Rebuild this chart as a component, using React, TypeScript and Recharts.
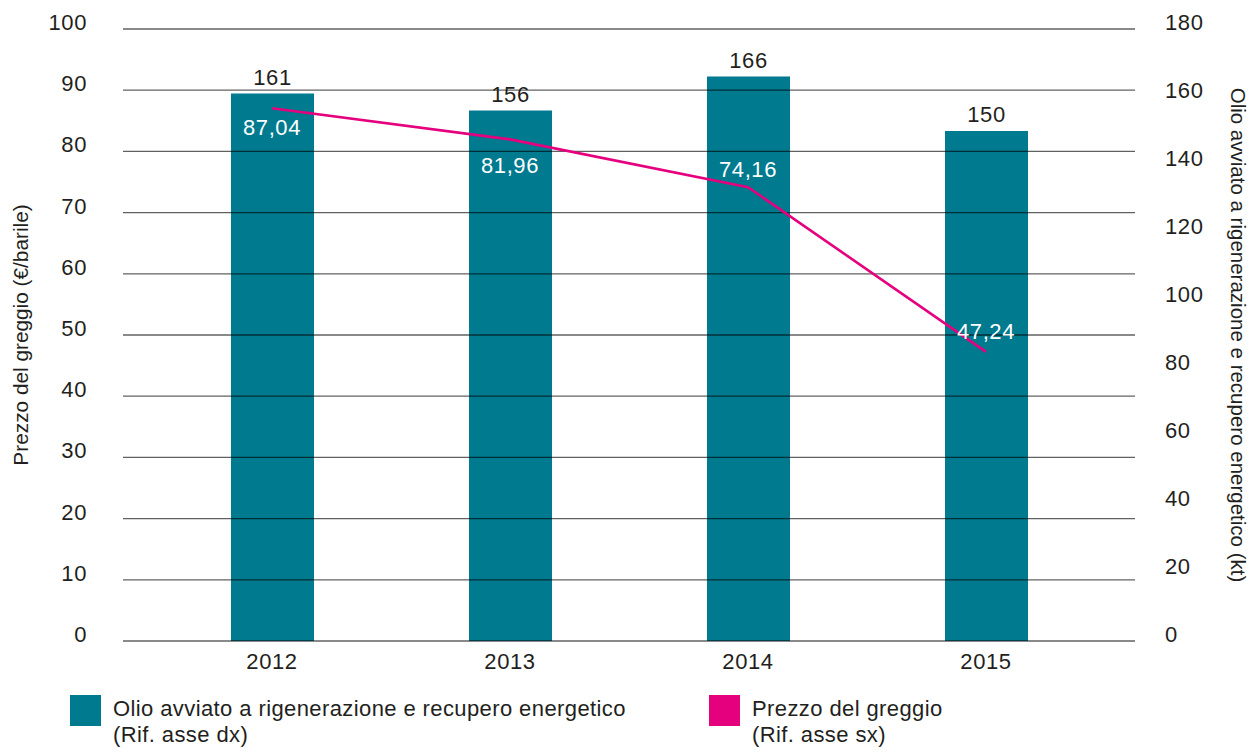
import {
  ComposedChart,
  Bar,
  Line,
  XAxis,
  YAxis,
  ReferenceLine,
  LabelList,
  Label,
} from "recharts";

// data
const years = ["2012", "2013", "2014", "2015"];
const oilKt = [161, 156, 166, 150];
const crudePrice = [87.04, 81.96, 74.16, 47.24];

const leftTicks = [0, 10, 20, 30, 40, 50, 60, 70, 80, 90, 100];
const rightTicks = [0, 20, 40, 60, 80, 100, 120, 140, 160, 180];

const barName = "Olio avviato a rigenerazione e recupero energetico";
const lineName = "Prezzo del greggio";

const TEAL = "#007a8f";
const MAGENTA = "#e5007e";
const INK = "#231f20";
const FONT = "'Liberation Sans', Arial, Helvetica, sans-serif";
const NUM_SIZE = 22;
const NUM_SPACING = 0.6;

// vertical shift of the price labels (below / above the point)
const priceLabelDy = [27, 34, -10, -13];

const data = years.map((year, i) => ({
  year,
  olio: oilKt[i],
  prezzo: crudePrice[i],
}));

const numText = {
  fontSize: NUM_SIZE,
  fontFamily: FONT,
  letterSpacing: NUM_SPACING,
};

const LeftTick = (props: any) => {
  const { x, y, payload } = props;
  return (
    <text x={x} y={y + 1} textAnchor="end" fill={INK} style={numText}>
      {payload.value}
    </text>
  );
};

const RightTick = (props: any) => {
  const { x, y, payload } = props;
  return (
    <text x={x} y={y + 1} textAnchor="start" fill={INK} style={numText}>
      {payload.value}
    </text>
  );
};

const YearTick = (props: any) => {
  const { x, y, payload } = props;
  return (
    <text x={x} y={y + 26} textAnchor="middle" fill={INK} style={numText}>
      {payload.value}
    </text>
  );
};

const BarValue = (props: any) => {
  const { x, y, width, value } = props;
  return (
    <text x={x + width / 2} y={y - 9} textAnchor="middle" fill={INK} style={numText}>
      {value}
    </text>
  );
};

const PriceValue = (props: any) => {
  const { x, y, value, index } = props;
  return (
    <text
      x={x}
      y={y + priceLabelDy[index]}
      textAnchor="middle"
      fill="#ffffff"
      style={numText}
    >
      {Number(value).toFixed(2).replace(".", ",")}
    </text>
  );
};

const LeftTitle = (props: any) => {
  const { viewBox } = props;
  const cx = 28;
  const cy = viewBox.y + viewBox.height / 2;
  return (
    <text
      x={cx}
      y={cy}
      transform={`rotate(-90, ${cx}, ${cy})`}
      textAnchor="middle"
      fontSize={20.8}
      fill={INK}
      fontFamily={FONT}
    >
      Prezzo del greggio (€/barile)
    </text>
  );
};

const RightTitle = (props: any) => {
  const { viewBox } = props;
  const cx = 1231;
  const cy = viewBox.y + viewBox.height / 2;
  return (
    <text
      x={cx}
      y={cy}
      transform={`rotate(90, ${cx}, ${cy})`}
      textAnchor="middle"
      fontSize={20.5}
      fill={INK}
      fontFamily={FONT}
    >
      Olio avviato a rigenerazione e recupero energetico (kt)
    </text>
  );
};

const LegendItem = ({ color, name, note, left }: any) => (
  <div style={{ position: "absolute", left, top: 695 }}>
    <div
      style={{
        position: "absolute",
        left: 0,
        top: 0,
        width: 31,
        height: 31,
        background: color,
      }}
    />
    <div
      style={{
        position: "absolute",
        left: 43,
        top: 1,
        whiteSpace: "nowrap",
        fontSize: 22,
        letterSpacing: 0.4,
        lineHeight: "26px",
        color: INK,
        fontFamily: FONT,
      }}
    >
      {name}
      <br />
      {note}
    </div>
  </div>
);

const App = () => {
  return (
    <div
      style={{
        position: "absolute",
        left: 0,
        top: 0,
        width: 1251,
        height: 752,
        background: "#ffffff",
      }}
    >
      <ComposedChart
        width={1251}
        height={681}
        data={data}
        margin={{ top: 29, right: 0, bottom: 0, left: 0 }}
      >
        <XAxis
          dataKey="year"
          xAxisId="x"
          height={40}
          padding={{ left: 30, right: 30 }}
          axisLine={false}
          tickLine={false}
          tickSize={0}
          tick={<YearTick />}
        />

        <YAxis
          yAxisId="left"
          orientation="left"
          width={123}
          domain={[0, 100]}
          ticks={leftTicks}
          interval={0}
          axisLine={false}
          tickLine={false}
          tickSize={0}
          tickMargin={36}
          tick={<LeftTick />}
        >
          <Label content={<LeftTitle />} />
        </YAxis>

        <YAxis
          yAxisId="right"
          orientation="right"
          width={116}
          domain={[0, 180]}
          ticks={rightTicks}
          interval={0}
          axisLine={false}
          tickLine={false}
          tickSize={0}
          tickMargin={30}
          tick={<RightTick />}
        >
          <Label content={<RightTitle />} />
        </YAxis>

        <Bar
          dataKey="olio"
          name={barName}
          xAxisId="x"
          yAxisId="right"
          fill={TEAL}
          barSize={83}
          isAnimationActive={false}
        >
          <LabelList dataKey="olio" content={<BarValue />} />
        </Bar>

        {/* gridlines drawn over the bars, like the original */}
        {leftTicks.map((t) => (
          <ReferenceLine
            key={t}
            y={t}
            xAxisId="x"
            yAxisId="left"
            stroke="#000000"
            strokeOpacity={0.62}
            strokeWidth={1.3}
          />
        ))}

        <Line
          type="linear"
          dataKey="prezzo"
          name={lineName}
          xAxisId="x"
          yAxisId="left"
          stroke={MAGENTA}
          strokeWidth={2.6}
          dot={false}
          isAnimationActive={false}
        >
          <LabelList dataKey="prezzo" content={<PriceValue />} />
        </Line>
      </ComposedChart>

      <LegendItem left={70} color={TEAL} name={barName} note="(Rif. asse dx)" />
      <LegendItem left={709} color={MAGENTA} name={lineName} note="(Rif. asse sx)" />
    </div>
  );
};

export default App;
